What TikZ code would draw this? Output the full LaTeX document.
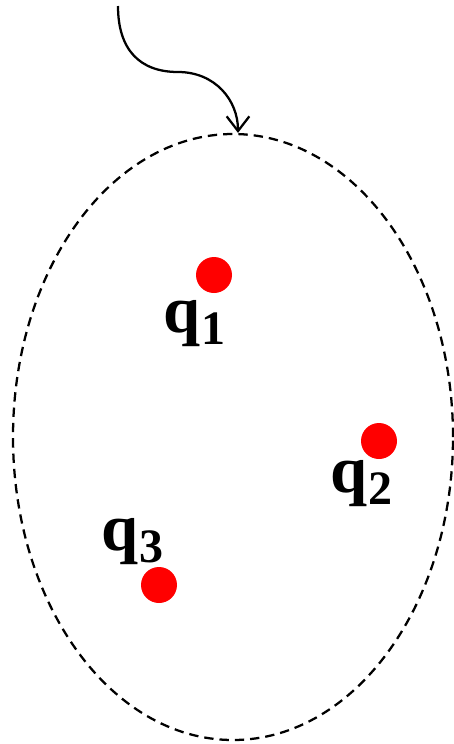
\documentclass[tikz,border=0pt]{standalone}
\usepackage{fontspec}
\setmainfont{Liberation Serif}
\usetikzlibrary{arrows.meta,shapes.geometric}
\tikzset{
  charge/.style={circle, fill=red, draw=none, minimum size=27pt, inner sep=0pt},
  qlabel/.style={anchor=base west, inner sep=0pt, font=\bfseries\fontsize{50}{50}\selectfont},
  region/.style={ellipse, draw=black, line width=1.7pt, dash pattern=on 7pt off 4.5pt, inner sep=0pt, minimum width=330pt, minimum height=454.5pt},
  inarrow/.style={draw=black, line width=1.7pt, -{Straight Barb[length=11pt, width=17pt, line width=1.7pt]}}
}
\newcommand{\qsub}[1]{q\kern1pt\raisebox{-9pt}{\fontsize{36}{36}\selectfont #1}}
\begin{document}
\begin{tikzpicture}[x=0.75pt, y=-0.75pt]
  \useasboundingbox (0,0) rectangle (454,744);
  \node[region] (reg) at (233,437) {};
  \coordinate (start) at (118,6);
  \draw[inarrow] (start) .. controls (118,50) and (140,72) .. (178,72) .. controls (215,72) and (238,100) .. ([xshift=3.75pt]reg.north);
  \node[charge] (c1) at (214,275) {};
  \node[charge] (c2) at (379,441) {};
  \node[charge] (c3) at (159,585) {};
  \node[qlabel] (l1) at (163,332) {\qsub{1}};
  \node[qlabel] (l2) at (330,492) {\qsub{2}};
  \node[qlabel] (l3) at (101,550) {\qsub{3}};
\end{tikzpicture}
\end{document}
